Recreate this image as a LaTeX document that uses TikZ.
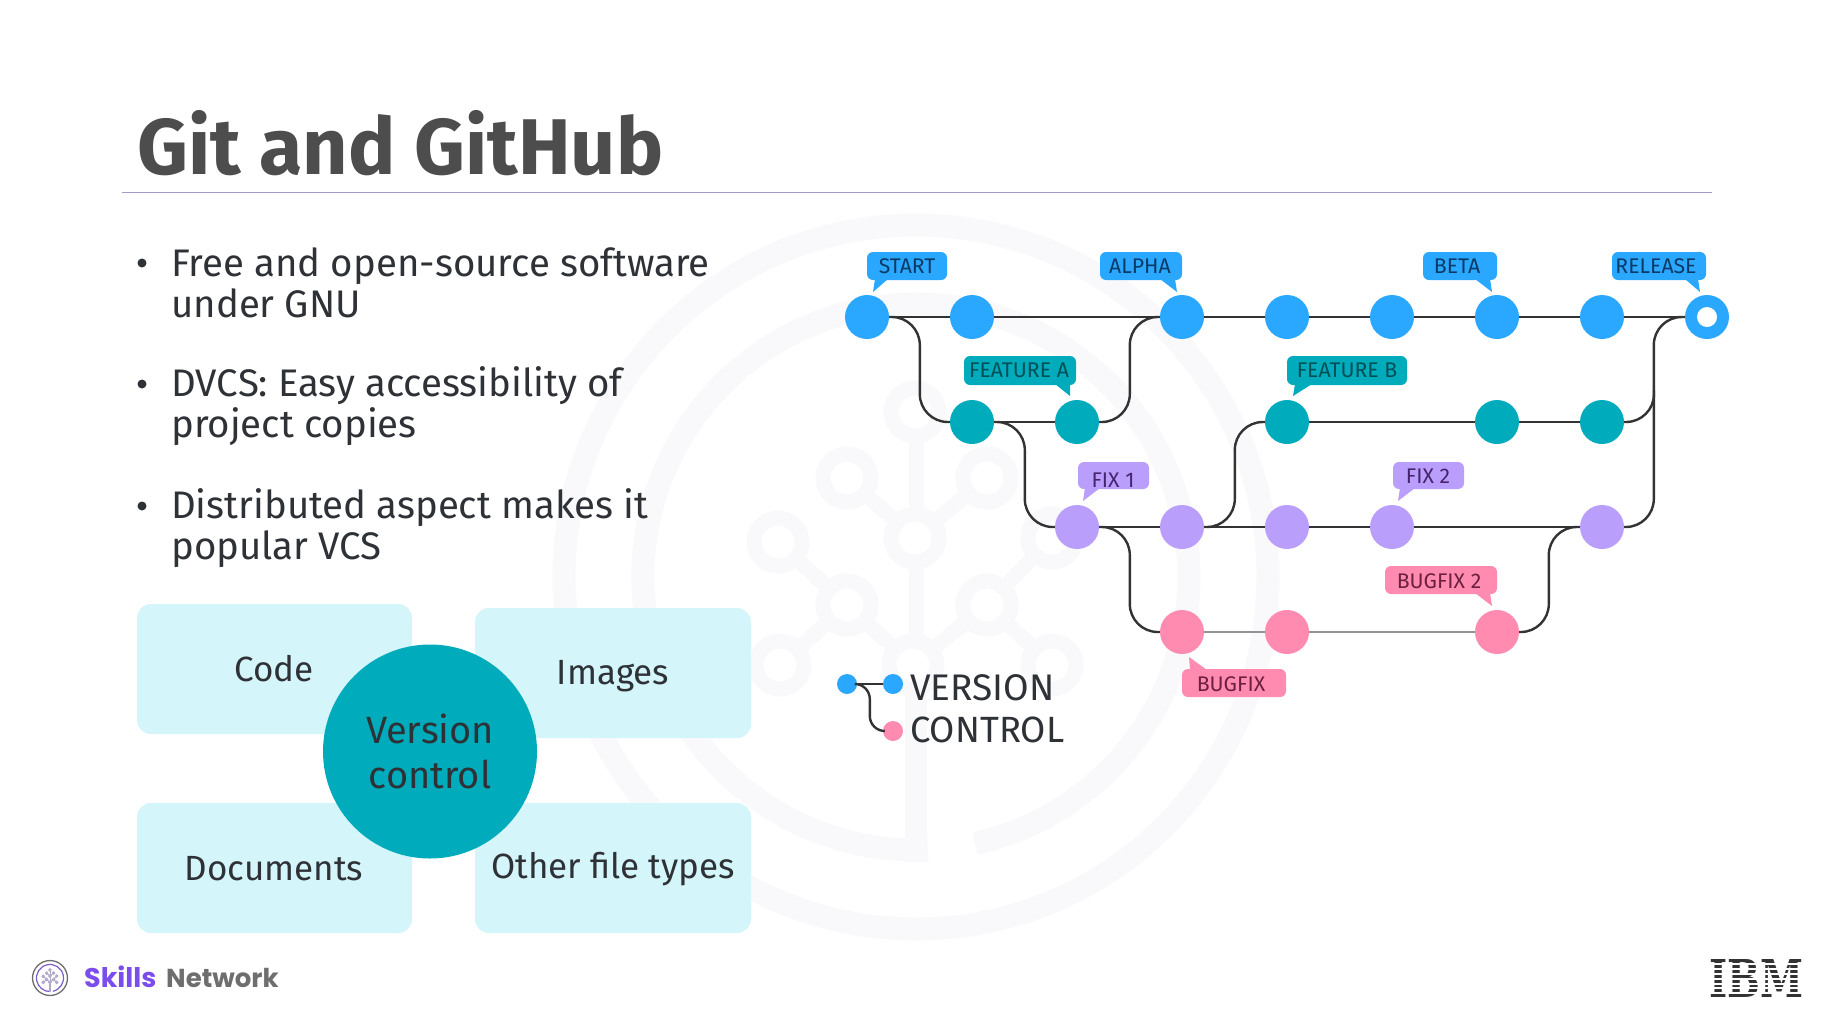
\documentclass[tikz,border=0pt]{standalone}
\usepackage{fontspec}
\usepackage{graphicx}
\setmainfont{Fira Sans}
\newfontfamily\popfont{Poppins}
\newfontfamily\slabfont{DejaVu Serif}
\usetikzlibrary{calc}
\definecolor{cblue}{HTML}{2AA7FF}
\definecolor{cteal}{HTML}{00ACBB}
\definecolor{cpurple}{HTML}{BA9EFB}
\definecolor{cpink}{HTML}{FF8CB0}
\definecolor{tblue}{HTML}{0A3A66}
\definecolor{tteal}{HTML}{004F57}
\definecolor{tpurple}{HTML}{46246E}
\definecolor{tpink}{HTML}{6D1F40}
\definecolor{cbox}{HTML}{D4F5FA}
\definecolor{wm}{HTML}{F9F9FB}
\definecolor{ink}{HTML}{2E3136}
\definecolor{ctitle}{HTML}{4D4D4D}
\definecolor{crule}{HTML}{A09AD0}
\definecolor{cskills}{HTML}{7B4DEB}
\definecolor{cnet}{HTML}{6E6E6E}
\definecolor{lineink}{HTML}{333333}
\tikzset{
  commit/.style={circle,inner sep=0pt,minimum size=44pt,fill=#1},
  legdot/.style={circle,inner sep=0pt,minimum size=20pt,fill=#1},
  conn/.style={draw=lineink,line width=2.4pt},
  bendline/.style={conn,rounded corners=28pt},
  softbox/.style={fill=cbox,rounded corners=14pt},
  lab/.style={inner sep=0pt,font=\fontsize{21.2}{23}\selectfont},
  bodytext/.style={inner sep=0pt,anchor=base west,text=ink,font=\fontsize{38.4}{41}\selectfont},
  cardtext/.style={inner sep=0pt,text=ink,font=\fontsize{35}{40}\selectfont},
  dotmark/.style={circle,fill=ink,inner sep=0pt,minimum size=9pt}
}
\newcommand{\bub}[6]{%
  \fill[#5,rounded corners=6pt] (#1,#2) rectangle (#3,#4);
  \fill[#5] #6 -- cycle;
}
% tree mark: colour, trunk w, stroke w, ring
\newcommand{\treemark}[3]{%
  \draw[#1,line width=#3] (916,436) -- (916,640);
  \draw[#1,line width=#2] (916,640) -- (916,862);
  \draw[#1,line width=#3] (847,478) -- (915,538) -- (987,478);
  \draw[#1,line width=#3] (778,542) -- (847,605) -- (913,665) -- (987,605) -- (1052,538);
  \draw[#1,line width=#3] (780,665) -- (847,605);
  \draw[#1,line width=#3] (1052,665) -- (987,605);
  \foreach \cx/\cy in {915/412,847/478,987/478,778/542,915/538,1052/538,847/605,987/605,780/665,913/665,1052/665}
    \draw[#1,fill=white,line width=#3] (\cx,\cy) circle[radius=24];
}
\begin{document}
\begin{tikzpicture}[x=1pt,y=-1pt]
\useasboundingbox (0,0) rectangle (1838,1029);
\fill[white] (0,0) rectangle (1838,1029);

% watermark
\draw[wm,line width=23pt] (916,577) circle[radius=352];
\draw[wm,line width=23pt] (975,843.5) arc[start angle=77.5,end angle=-272.5,radius=273];
\treemark{wm}{22pt}{15pt}

% title
\node[inner sep=0pt,anchor=base west,text=ctitle,font=\fontsize{79}{84}\selectfont\bfseries] (title) at (137,174) {Git and GitHub};
\coordinate (ruleL) at (122,192.5);
\coordinate (ruleR) at (1712,192.5);
\draw[crule,line width=1.6pt] (ruleL) -- (ruleR);

% bullets
\node[dotmark] (b1) at (142,263) {};
\node[bodytext] (t1a) at (171,276) {Free and open-source software};
\node[bodytext] (t1b) at (171,317) {under GNU};
\node[dotmark] (b2) at (142,384) {};
\node[bodytext] (t2a) at (171,396) {DVCS: Easy accessibility of};
\node[bodytext] (t2b) at (171,437) {project copies};
\node[dotmark] (b3) at (142,506) {};
\node[bodytext] (t3a) at (171,518) {Distributed aspect makes it};
\node[bodytext] (t3b) at (171,559) {popular VCS};

% cards
\fill[softbox] (137,604) rectangle (412,734);
\fill[softbox] (475,608) rectangle (751,738);
\fill[softbox] (137,803) rectangle (412,933);
\fill[softbox] (475,803) rectangle (751,933);
\node[cardtext] (code) at (274,669) {Code};
\node[cardtext] (images) at (613,676) {Images};
\node[cardtext] (docs) at (274,869) {Documents};
\node[cardtext] (other) at (613,869) {Other file types};
\node[circle,fill=cteal,inner sep=0pt,minimum size=214pt] (vc) at (430,751.5) {};
\node[cardtext,font=\fontsize{38}{45}\selectfont,align=center] (vct) at (430,751) {Version\\control};

% commits
\foreach \i/\x in {0/867,1/972,3/1182,4/1287,5/1392,6/1497,7/1602}
  \node[commit=cblue] (a\i) at (\x,317) {};
\node[commit=cblue] (a8) at (1707,317) {};
\node[circle,fill=white,inner sep=0pt,minimum size=20pt] (a8c) at (a8) {};
\foreach \i/\x in {1/972,2/1077,4/1287,6/1497,7/1602}
  \node[commit=cteal] (f\i) at (\x,422) {};
\foreach \i/\x in {2/1077,3/1182,4/1287,5/1392,7/1602}
  \node[commit=cpurple] (p\i) at (\x,527) {};
\foreach \i/\x in {3/1182,4/1287,6/1497}
  \node[commit=cpink] (k\i) at (\x,632) {};

% straight connectors
\foreach \u/\v in {a0/a1,a1/a3,a3/a4,a4/a5,a5/a6,a6/a7,a7/a8,f1/f2,f4/f6,f6/f7,p2/p3,p3/p4,p4/p5,p5/p7}
  \draw[conn] (\u.east) -- (\v.west);
\foreach \u/\v in {k3/k4,k4/k6}
  \draw[draw=gray!85,line width=2.4pt] (\u.east) -- (\v.west);

% curved connectors
\draw[bendline] (a0.east) -| ([xshift=-30pt]f1.west) -- (f1.west);
\draw[bendline] (f2.east) -| ([xshift=-30pt]a3.west) -- (a3.west);
\draw[bendline] (f1.east) -| ([xshift=-30pt]p2.west) -- (p2.west);
\draw[bendline] (p3.east) -| ([xshift=-30pt]f4.west) -- (f4.west);
\draw[bendline] (p2.east) -| ([xshift=-30pt]k3.west) -- (k3.west);
\draw[bendline] (k6.east) -| ([xshift=-31pt]p7.west) -- (p7.west);
\draw[bendline] (p7.east) -| ([xshift=-31pt]a8.west) -- (a8.west);
\coordinate (mergeTop) at (1654,390);
\draw[bendline] (f7.east) -| (mergeTop);

% bubbles
\bub{867}{252}{947}{280}{cblue}{(888,279)--(873,292)--(875,279)}
\node[lab,text=tblue] (lstart) at (907,266) {START};
\bub{1100}{252}{1182}{280}{cblue}{(1160,279)--(1177,292)--(1175,279)}
\node[lab,text=tblue] (lalpha) at (1140,266) {ALPHA};
\bub{1423}{252}{1497}{280}{cblue}{(1475,279)--(1492,292)--(1490,279)}
\node[lab,text=tblue] (lbeta) at (1457,266) {BETA};
\bub{1612}{252}{1706}{280}{cblue}{(1685,279)--(1700,292)--(1698,279)}
\node[lab,text=tblue] (lrel) at (1656,266) {RELEASE};
\bub{964}{356}{1076}{385}{cteal}{(1055,384)--(1070,396)--(1070,384)}
\node[lab,text=tteal] (lfa) at (1019,370) {FEATURE A};
\bub{1287}{356}{1407}{385}{cteal}{(1295,384)--(1293,396)--(1312,384)}
\node[lab,text=tteal] (lfb) at (1347,370) {FEATURE B};
\bub{1078}{462}{1149}{489}{cpurple}{(1085,488)--(1083,501)--(1100,488)}
\node[lab,text=tpurple] (lf1) at (1113,480) {FIX 1};
\bub{1393}{462}{1464}{489}{cpurple}{(1400,488)--(1398,501)--(1415,488)}
\node[lab,text=tpurple] (lf2) at (1428,476) {FIX 2};
\bub{1385}{566}{1497}{594}{cpink}{(1475,593)--(1492,606)--(1490,593)}
\node[lab,text=tpink] (lb2) at (1439,581) {BUGFIX 2};
\bub{1182}{669}{1286}{697}{cpink}{(1190,670)--(1189,657)--(1207,670)}
\node[lab,text=tpink] (lb1) at (1231,684) {BUGFIX};

% legend
\node[legdot=cblue] (g1) at (847,684) {};
\node[legdot=cblue] (g2) at (893,684) {};
\node[legdot=cpink] (g3) at (893,731) {};
\draw[conn] (g1.east) -- (g2.west);
\draw[conn,rounded corners=15pt] (g1.east) -| ([xshift=-13pt]g3.west) -- (g3.west);
\node[inner sep=0pt,anchor=base west,text=ink,font=\fontsize{37}{40}\selectfont] (lv) at (910,700) {VERSION};
\node[inner sep=0pt,anchor=base west,text=ink,font=\fontsize{36.5}{40}\selectfont] (lc) at (910,742) {CONTROL};

% footer logo
\begin{scope}[shift={(50,978)},scale=0.0496,shift={(-916,-577)}]
  \draw[cnet,line width=1.3pt] (916,577) circle[radius=352];
  \draw[cskills!70!gray,line width=1.2pt] (975,843.5) arc[start angle=77.5,end angle=-272.5,radius=273];
  \treemark{cskills!35!gray!60}{1.1pt}{1pt}
\end{scope}
\node[inner sep=0pt,anchor=base west,text=cskills,font=\popfont\bfseries\fontsize{27}{30}\selectfont] (skills) at (84,987) {Skills};
\node[inner sep=0pt,anchor=base west,text=cnet,font=\popfont\bfseries\fontsize{26}{30}\selectfont] (network) at (166,987) {Network};

% IBM logo
\node[inner sep=0pt,anchor=north west,text=black!80] (ibm) at (1709,959) {\resizebox{94pt}{38pt}{\slabfont\bfseries IBM}};
\foreach \k in {1,...,7}
  \fill[white] (1705,{959+\k*4.9-1.0}) rectangle (1807,{959+\k*4.9+1.0});
\end{tikzpicture}
\end{document}
